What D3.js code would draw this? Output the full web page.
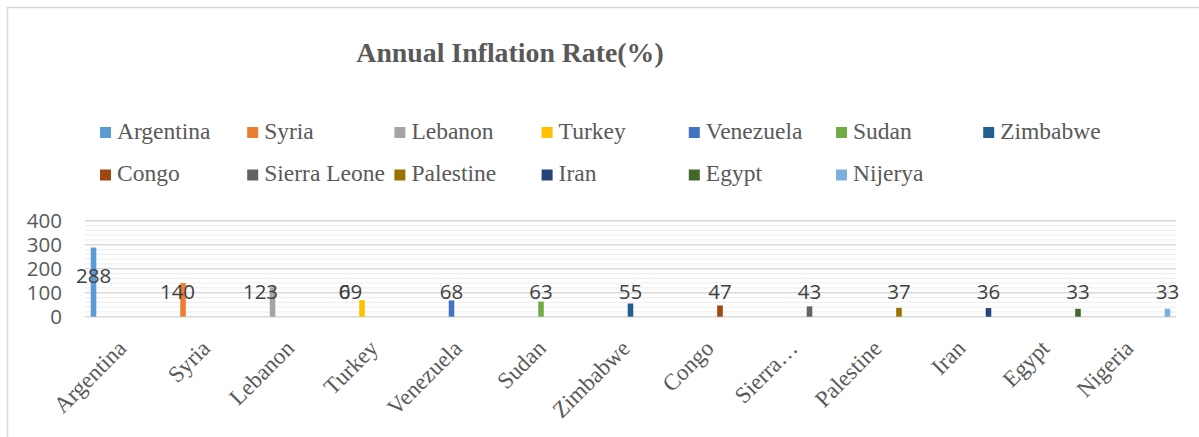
<!DOCTYPE html>
<html>
<head>
<meta charset="utf-8">
<script src="https://cdn.jsdelivr.net/npm/d3@7"></script>
<style>
  html, body { margin: 0; padding: 0; background: #fff; }
  svg { display: block; }
</style>
</head>
<body>
<div id="chart"></div>
<script>
// Annual inflation rate — one Excel-style clustered column per country.
const categories = ['Argentina', 'Syria', 'Lebanon', 'Turkey', 'Venezuela', 'Sudan', 'Zimbabwe',
  'Congo', 'Sierra Leone', 'Palestine', 'Iran', 'Egypt', 'Nigeria'];
const tickLabels = ['Argentina', 'Syria', 'Lebanon', 'Turkey', 'Venezuela', 'Sudan', 'Zimbabwe',
  'Congo', 'Sierra…', 'Palestine', 'Iran', 'Egypt', 'Nigeria'];
const seriesNames = ['Argentina', 'Syria', 'Lebanon', 'Turkey', 'Venezuela', 'Sudan', 'Zimbabwe',
  'Congo', 'Sierra Leone', 'Palestine', 'Iran', 'Egypt', 'Nijerya'];
const values = [288, 140, 123, 69, 68, 63, 55, 47, 43, 37, 36, 33, 33];
const colors = ['#5b9bd5', '#ed7d31', '#a5a5a5', '#ffc000', '#4472c4', '#70ad47', '#255e91',
  '#9e480e', '#636363', '#997300', '#264478', '#43682b', '#7cafdd'];
const yTicks = [0, 100, 200, 300, 400];

const W = 1199, H = 437;
const plot = { left: 85, right: 1176, top: 220.7, bottom: 316.7 };
const serif = '"Liberation Serif", serif';
const sans = '"Open Sans", sans-serif';
const grey = '#595959';

const svg = d3.select('#chart').append('svg').attr('width', W).attr('height', H);

// chart frame (only left + top edges fall inside the window)
svg.append('path')
  .attr('d', `M7.5,${H} V7.5 H${W}`)
  .attr('fill', 'none').attr('stroke', '#d9d9d9').attr('stroke-width', 1.5);

svg.append('text')
  .attr('x', 510).attr('y', 62)
  .attr('text-anchor', 'middle')
  .attr('font-family', serif).attr('font-weight', 700).attr('font-size', 27.8)
  .attr('fill', grey)
  .text('Annual Inflation Rate(%)');

// legend: 7 columns x 2 rows
const legendX0 = 100, legendStep = 147.2;
const legendRows = [132.5, 175];
const legend = svg.append('g');
seriesNames.forEach((name, i) => {
  const col = i % 7, row = Math.floor(i / 7);
  const g = legend.append('g')
    .attr('transform', `translate(${legendX0 + col * legendStep},${legendRows[row]})`);
  g.append('rect').attr('x', 0).attr('y', -5.5).attr('width', 11).attr('height', 11)
    .attr('fill', colors[i]);
  g.append('text').attr('x', 17).attr('y', 6)
    .attr('font-family', serif).attr('font-size', 23.5).attr('fill', grey)
    .text(name);
});

const x0 = d3.scaleBand().domain(categories).range([plot.left, plot.right]);
const x1 = d3.scaleBand().domain(seriesNames).range([0, x0.bandwidth()]).paddingOuter(1.03);
const y = d3.scaleLinear().domain([0, 400]).range([plot.bottom, plot.top]);

// gridlines: minor every 20, major every 100
const grid = svg.append('g');
grid.selectAll('line.minor').data(d3.range(20, 400, 20).filter(v => v % 100))
  .join('line').attr('class', 'minor')
  .attr('x1', plot.left).attr('x2', plot.right)
  .attr('y1', d => y(d)).attr('y2', d => y(d))
  .attr('stroke', '#f0f0f0').attr('stroke-width', 1.3);
grid.selectAll('line.major').data(yTicks)
  .join('line').attr('class', 'major')
  .attr('x1', plot.left).attr('x2', plot.right)
  .attr('y1', d => y(d)).attr('y2', d => y(d))
  .attr('stroke', '#d9d9d9').attr('stroke-width', 1.5);

// y axis labels
const yAxis = svg.append('g').attr('transform', `translate(62,0)`)
  .call(d3.axisLeft(y).tickValues(yTicks).tickSize(0).tickPadding(0));
yAxis.select('.domain').remove();
yAxis.selectAll('text')
  .attr('font-family', sans).attr('font-size', 20.5).attr('fill', grey);

// bars: each series sits in its own slot inside its own category
const rows = categories.map((c, i) => ({ category: c, series: seriesNames[i], value: values[i], color: colors[i] }));
svg.append('g').selectAll('rect').data(rows).join('rect')
  .attr('x', d => x0(d.category) + x1(d.series))
  .attr('y', d => y(d.value))
  .attr('width', x1.bandwidth())
  .attr('height', d => y(0) - y(d.value))
  .attr('fill', d => d.color);

// data labels (Excel left them floating at fixed heights, a few pushed left)
const labelLevel = d => d.value > 150 ? 170 : 103;
const labelNudge = { Syria: -5.5, Lebanon: -12, Turkey: -11.5 };
const labelX = d => x0(d.category) + x1(d.series) + x1.bandwidth() / 2 + (labelNudge[d.category] || 0);
const labels = svg.append('g')
  .attr('font-family', sans).attr('font-size', 20.5).attr('fill', '#404040');
labels.selectAll('text').data(rows).join('text')
  .attr('x', labelX)
  .attr('y', d => y(labelLevel(d)))
  .attr('dy', '0.35em')
  .attr('text-anchor', 'middle')
  .text(d => d.value);
// a stray "0" label overprinted on Turkey's value
const turkey = rows[categories.indexOf('Turkey')];
labels.append('text')
  .attr('x', labelX(turkey))
  .attr('y', y(103)).attr('dy', '0.35em')
  .attr('text-anchor', 'end')
  .text('0');

// rotated category labels, ending under each category's centre
svg.append('g').selectAll('text').data(categories).join('text')
  .attr('transform', d => `translate(${x0(d) + x0.bandwidth() / 2 - 5},344) rotate(-45)`)
  .attr('text-anchor', 'end').attr('dy', '0.35em')
  .attr('font-family', serif).attr('font-size', 23).attr('fill', grey)
  .text((d, i) => tickLabels[i]);
</script>
</body>
</html>
